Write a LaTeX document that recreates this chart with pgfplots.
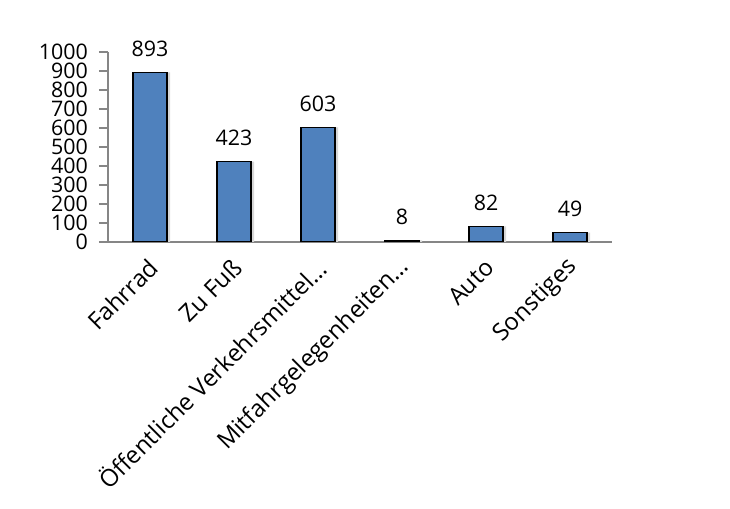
\documentclass[border=0pt]{standalone}
\usepackage{pgfplots}
\pgfplotsset{compat=1.18}
\usepackage{fontspec}
\setmainfont{Open Sans}
\definecolor{barblue}{RGB}{79,129,189}
\definecolor{axgray}{RGB}{134,134,134}
\definecolor{shadowgray}{RGB}{215,215,215}
\begin{document}
\begin{tikzpicture}
\useasboundingbox (0,0) rectangle (730bp,509bp);
\begin{axis}[
  at={(108bp,267bp)}, anchor=south west,
  scale only axis, width=504bp, height=190bp,
  xmin=-0.5, xmax=5.5, ymin=0, ymax=1000,
  axis lines=left,
  axis line style={-, draw=axgray},
  x axis line style={line width=2.5bp},
  y axis line style={line width=1.5bp},
  ytick={0,100,...,1000},
  xtick={0,1,2,3,4,5},
  xticklabels={Fahrrad, Zu Fuß, Öffentliche Verkehrsmittel…, Mitfahrgelegenheiten…, Auto, Sonstiges},
  tick align=outside,
  major tick length=9bp,
  ytick style={draw=axgray, line width=1.5bp},
  xtick style={draw=none},
  /pgf/number format/assume math mode=true,
  /pgf/number format/1000 sep={},
  yticklabel style={font=\fontsize{21.5}{21.5}\selectfont, xshift=-9bp, inner sep=2bp},
  xticklabel style={font=\fontsize{24}{24}\selectfont, yshift=-10bp, xshift=6bp, rotate=45, anchor=east},
  ybar, bar width=34bp,
]
\addplot[fill=shadowgray, draw=none, bar shift=3bp] coordinates {(0,893) (1,423) (2,603) (3,8) (4,82) (5,49)};
\addplot[fill=barblue, draw=black, line width=1.5bp, bar shift=0pt,
  nodes near coords,
  every node near coord/.append style={font=\fontsize{21.5}{21.5}\selectfont, black, yshift=12bp}]
  coordinates {(0,893) (1,423) (2,603) (3,8) (4,82) (5,49)};
\end{axis}
\end{tikzpicture}
\end{document}
